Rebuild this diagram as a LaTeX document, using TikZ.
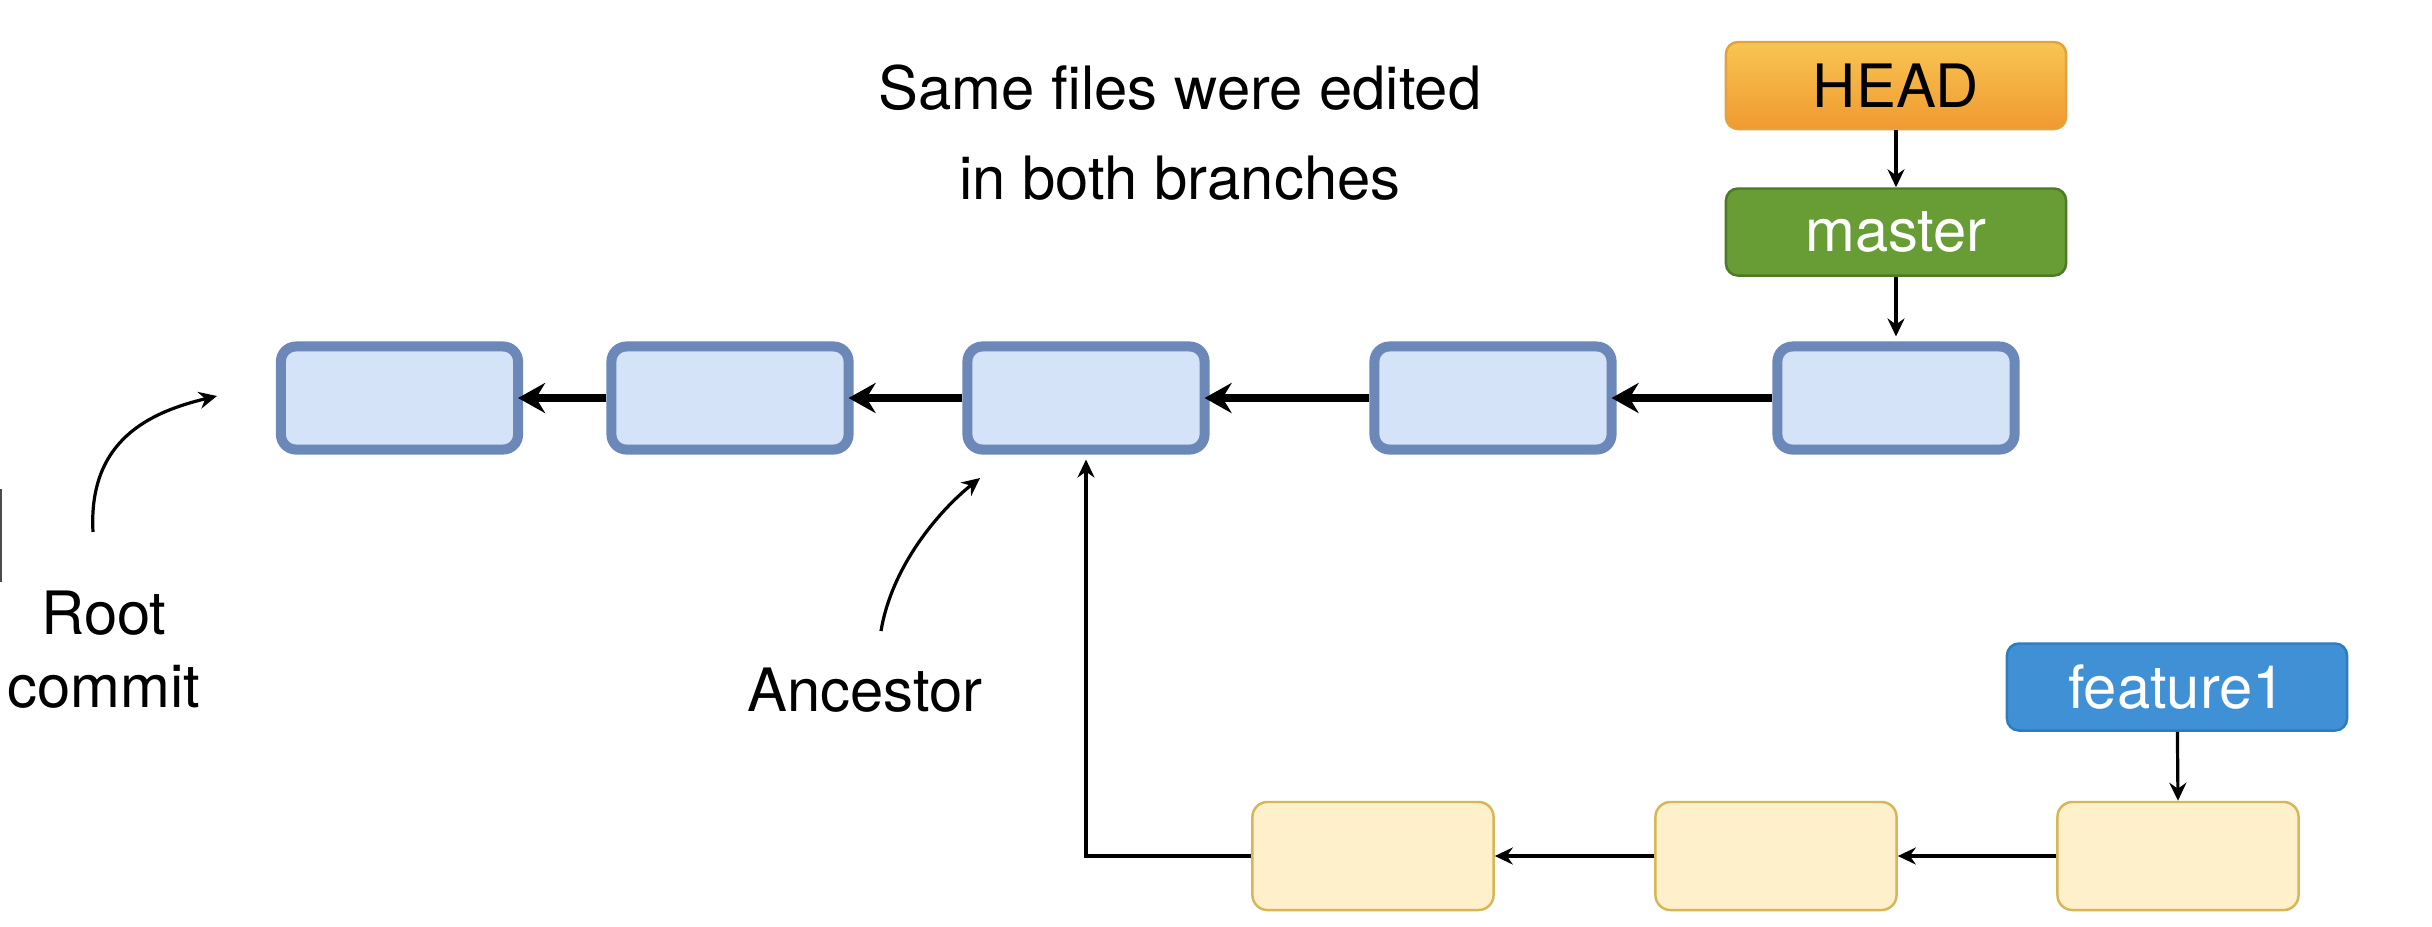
\documentclass[tikz,border=0pt]{standalone}
\usepackage{fontspec}
\setmainfont{TeX Gyre Heros}
\usetikzlibrary{arrows.meta}
\definecolor{cfill}{HTML}{D4E3F7}
\definecolor{cborder}{HTML}{6B88B8}
\definecolor{yfill}{HTML}{FFF0CC}
\definecolor{yborder}{HTML}{D6B656}
\definecolor{headtop}{HTML}{F8C552}
\definecolor{headbot}{HTML}{F09A30}
\definecolor{headborder}{HTML}{E3A23C}
\definecolor{masterfill}{HTML}{689C35}
\definecolor{masterborder}{HTML}{4C7A25}
\definecolor{featfill}{HTML}{3F90D4}
\definecolor{featborder}{HTML}{2E7CC0}
\begin{document}
\begin{tikzpicture}[x=0.01cm,y=-0.01cm,
  font=\fontsize{17}{20}\selectfont,
  commitbox/.style={draw=cborder, fill=cfill, line width=0.1cm, rounded corners=0.15cm,
    minimum width=2.37cm, minimum height=1.03cm, inner sep=0pt},
  featcommit/.style={draw=yborder, fill=yfill, line width=0.7pt, rounded corners=0.15cm,
    minimum width=2.41cm, minimum height=1.08cm, inner sep=0pt},
  refbox/.style={rounded corners=0.12cm, minimum width=3.4cm, minimum height=0.87cm,
    inner sep=0pt, line width=0.7pt},
  bigarrow/.style={line width=0.075cm, -{Stealth[length=0.27cm, width=0.3cm, inset=0.09cm]}},
  thinarrow/.style={line width=0.032cm, -{Stealth[length=0.18cm, width=0.17cm, inset=0.06cm]}},
  label/.style={align=center, inner sep=0pt}
]
\useasboundingbox (0,0) rectangle (2432,926);
\fill[white] (0,0) rectangle (2432,926);

% title
\node[label, font=\fontsize{17}{25.6}\selectfont] (title) at (1180,133) {Same files were edited\\in both branches};

% refs
\node[refbox, top color=headtop, bottom color=headbot, draw=headborder] (head) at (1896,85.5) {HEAD};
\node[refbox, fill=masterfill, draw=masterborder, text=white] (master) at (1896,232) {master};
\node[refbox, fill=featfill, draw=featborder, text=white] (feat) at (2177,687) {feature1};

% main commits
\node[commitbox] (c1) at (399.5,398) {};
\node[commitbox] (c2) at (730,398) {};
\node[commitbox] (c3) at (1086,398) {};
\node[commitbox] (c4) at (1493,398) {};
\node[commitbox] (c5) at (1896,398) {};

% feature commits
\node[featcommit] (b1) at (1373,856) {};
\node[featcommit] (b2) at (1776,856) {};
\node[featcommit] (b3) at (2178,856) {};

% arrows
\draw[thinarrow] (head) -- (master);
\draw[thinarrow] (master) -- ([yshift=0.05cm]c5.north);
\draw[thinarrow] (feat) -- (b3.north);
\draw[bigarrow] (c5.west) -- ([xshift=-0.05cm]c4.east);
\draw[bigarrow] (c4.west) -- ([xshift=-0.05cm]c3.east);
\draw[bigarrow] (c3.west) -- ([xshift=-0.05cm]c2.east);
\draw[bigarrow] (c2.west) -- ([xshift=-0.05cm]c1.east);
\draw[thinarrow] (b3.west) -- (b2.east);
\draw[thinarrow] (b2.west) -- (b1.east);
\draw[thinarrow] (b1.west) -| ([yshift=-0.05cm]c3.south);

% labels
\node[label, font=\fontsize{17}{20.7}\selectfont] (root) at (104,650) {Root\\commit};
\node[label] (anc) at (865,690) {Ancestor};

\coordinate (rootA) at (93,532);
\coordinate (rootB) at (217,396);
\draw[thinarrow] (rootA) .. controls (88,440) and (150,412) .. (rootB);
\coordinate (ancA) at (881,631);
\coordinate (ancB) at (980,478);
\draw[thinarrow] (ancA) .. controls (892,565) and (940,510) .. (ancB);

% edge artifact
\draw[black!70, line width=0.02cm] (1,489) -- (1,582);
\end{tikzpicture}
\end{document}
